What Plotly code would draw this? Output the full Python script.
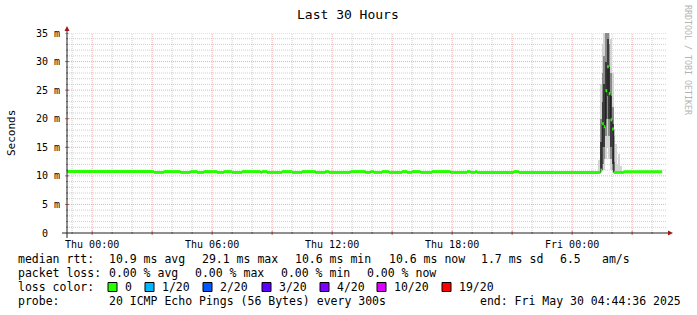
import plotly.graph_objects as go
import pandas as pd

# ---------------- data ----------------
graph_start = "2025-05-28 22:44:36"
graph_end = "2025-05-30 04:44:36"
data_end = "2025-05-30 04:30"

# median RTT in ms, piecewise constant (segment start time -> value)
median_start = [
    "2025-05-28 22:45", "2025-05-29 03:05", "2025-05-29 03:35", "2025-05-29 04:25",
    "2025-05-29 04:55", "2025-05-29 05:15", "2025-05-29 05:35", "2025-05-29 06:15",
    "2025-05-29 06:35", "2025-05-29 07:00", "2025-05-29 07:30", "2025-05-29 08:25",
    "2025-05-29 08:30", "2025-05-29 08:45", "2025-05-29 09:30", "2025-05-29 10:00",
    "2025-05-29 10:30", "2025-05-29 11:10", "2025-05-29 11:40", "2025-05-29 11:50",
    "2025-05-29 12:55", "2025-05-29 13:40", "2025-05-29 13:55", "2025-05-29 14:05",
    "2025-05-29 14:30", "2025-05-29 14:50", "2025-05-29 15:30", "2025-05-29 15:45",
    "2025-05-29 16:00", "2025-05-29 16:25", "2025-05-29 17:00", "2025-05-29 17:55",
    "2025-05-29 18:45", "2025-05-29 18:55", "2025-05-29 19:10", "2025-05-29 19:15",
    "2025-05-29 21:05", "2025-05-29 21:20",
    "2025-05-30 01:25", "2025-05-30 01:30", "2025-05-30 01:35", "2025-05-30 01:40",
    "2025-05-30 01:45", "2025-05-30 01:50", "2025-05-30 01:55", "2025-05-30 02:00",
    "2025-05-30 02:05", "2025-05-30 02:35",
]
median_ms = [
    10.75, 10.6, 10.75, 10.6,
    10.75, 10.6, 10.75, 10.6,
    10.75, 10.6, 10.75, 10.6,
    10.75, 10.6, 10.75, 10.6,
    10.75, 10.6, 10.75, 10.6,
    10.75, 10.6, 10.75, 10.6,
    10.75, 10.6, 10.75, 10.6,
    10.75, 10.6, 10.75, 10.6,
    10.75, 10.6, 10.75, 10.6,
    10.75, 10.6,
    11.0, 19.1, 18.6, 24.9,
    29.1, 24.4, 19.8, 18.2,
    10.6, 10.7,
]

# smoke (spread of the 20 pings) per 5-minute sample, ms
smoke_start = [
    "2025-05-30 01:20", "2025-05-30 01:25", "2025-05-30 01:30", "2025-05-30 01:35",
    "2025-05-30 01:40", "2025-05-30 01:45", "2025-05-30 01:50", "2025-05-30 01:55",
    "2025-05-30 02:00", "2025-05-30 02:05", "2025-05-30 02:10", "2025-05-30 02:15",
    "2025-05-30 02:20", "2025-05-30 02:25",
]
smoke_outer_lo = [10.5, 10.5, 11.0, 11.0, 13.0, 15.0, 13.0, 11.0, 10.6, 10.5, 10.5, 10.5, 10.5, 10.5]
smoke_outer_hi = [12.8, 26.0, 33.0, 36.0, 36.0, 36.0, 36.0, 34.0, 28.0, 17.0, 15.5, 12.0, 13.8, 11.8]
smoke_mid_lo = [None, 10.8, 12.0, 13.0, 17.0, 20.0, 17.0, 13.0, 11.0, 10.6, None, None, None, None]
smoke_mid_hi = [None, 20.0, 28.0, 31.0, 35.0, 36.0, 33.0, 28.0, 22.0, 12.5, None, None, None, None]
smoke_in_lo = [None, 11.0, 15.0, 15.0, 20.0, 24.0, 20.0, 15.0, 12.0, None, None, None, None, None]
smoke_in_hi = [None, 16.0, 23.0, 26.0, 30.0, 34.0, 29.0, 24.0, 19.0, None, None, None, None, None]

y_tick_vals = [0, 5, 10, 15, 20, 25, 30, 35]
y_tick_text = ["0 <span style='color:rgba(0,0,0,0)'>m</span>", "5 m", "10 m", "15 m",
               "20 m", "25 m", "30 m", "35 m"]
x_tick_vals = ["2025-05-29 00:00", "2025-05-29 06:00", "2025-05-29 12:00",
               "2025-05-29 18:00", "2025-05-30 00:00"]
x_tick_text = ["Thu 00:00", "Thu 06:00", "Thu 12:00", "Thu 18:00", "Fri 00:00"]

rtt_stats = ["10.9 ms avg", "29.1 ms max", "10.6 ms min", "10.6 ms now", "1.7 ms sd", "6.5", "am/s"]
loss_stats = ["0.00 % avg", "0.00 % max", "0.00 % min", "0.00 % now"]
loss_labels = ["0", "1/20", "2/20", "3/20", "4/20", "10/20", "19/20"]
loss_colors = ["#26ff00", "#00b8ff", "#0059ff", "#5e00ff", "#7e00ff", "#dd00ff", "#ff0000"]
probe_text = "20 ICMP Echo Pings (56 Bytes) every 300s"
end_text = "end: Fri May 30 04:44:36 2025"
title_text = "Last 30 Hours"
y_title = "Seconds"
watermark = "RRDTOOL / TOBI OETIKER"

# ---------------- layout constants ----------------
W, H = 697, 315
L, R, T, B = 67, 30, 33, 82
PW, PH = W - L - R, H - T - B
FONT = "DejaVu Sans Mono"


def px(x):
    return (x - L) / PW


def py(y):
    return (T + PH - y) / PH


fig = go.Figure()


def smoke_layer(lo, hi, color):
    xs, bases, hs = [], [], []
    for s, a, b in zip(smoke_start, lo, hi):
        if a is None:
            continue
        t0 = pd.Timestamp(s)
        xs.append(t0 + pd.Timedelta(seconds=150))
        bases.append(a)
        hs.append(b - a)
    fig.add_trace(go.Bar(x=xs, y=hs, base=bases, width=[300000] * len(xs),
                         marker=dict(color=color, line=dict(width=0)),
                         hoverinfo="skip", showlegend=False))


smoke_layer(smoke_outer_lo, smoke_outer_hi, "#d4d4d4")
smoke_layer(smoke_mid_lo, smoke_mid_hi, "#8c8c8c")
smoke_layer(smoke_in_lo, smoke_in_hi, "#3c3c3c")

# median black step line
fig.add_trace(go.Scatter(x=median_start + [data_end], y=median_ms + [median_ms[-1]],
                         mode="lines", line=dict(color="#202020", width=1, shape="hv"),
                         hoverinfo="skip", showlegend=False))

# median colored band (loss 0 -> green): horizontal dashes only
gx, gy = [], []
for s, e, v in zip(median_start, median_start[1:] + [data_end], median_ms):
    gx += [s, e, None]
    gy += [v, v, None]
fig.add_trace(go.Scatter(x=gx, y=gy, mode="lines", connectgaps=False,
                         line=dict(color=loss_colors[0], width=3),
                         hoverinfo="skip", showlegend=False))

shapes = []
minor_col = "rgba(160,160,160,0.5)"
major_col = "rgba(225,120,120,0.6)"
for t in pd.date_range("2025-05-28 23:00", "2025-05-30 04:00", freq="h"):
    major = t.hour % 3 == 0
    shapes.append(dict(type="line", xref="x", yref="paper", x0=t, x1=t, y0=0, y1=1,
                       line=dict(color=major_col if major else minor_col, width=1, dash="1px,1px"),
                       layer="below"))
    d = 2 if major else 1
    shapes.append(dict(type="line", xref="x", yref="paper", x0=t, x1=t,
                       y0=py(T + PH + d), y1=py(T + PH - d),
                       line=dict(color="rgba(200,60,60,0.8)" if major else "rgba(120,120,120,0.8)", width=1)))
for v in range(1, 36):
    major = v % 5 == 0
    shapes.append(dict(type="line", xref="paper", yref="y", x0=0, x1=1, y0=v, y1=v,
                       line=dict(color=major_col if major else minor_col, width=1, dash="1px,1px"),
                       layer="below"))
    d = 2 if major else 1
    shapes.append(dict(type="line", xref="paper", yref="y", x0=px(L - d), x1=px(L + d), y0=v, y1=v,
                       line=dict(color="rgba(200,60,60,0.8)" if major else "rgba(120,120,120,0.8)", width=1)))

shapes.append(dict(type="line", xref="paper", yref="paper", x0=px(62), x1=px(670),
                   y0=0, y1=0, line=dict(color="#202020", width=1)))
shapes.append(dict(type="line", xref="paper", yref="paper", x0=0, x1=0,
                   y0=py(238), y1=py(29), line=dict(color="#202020", width=1)))
arrow_col = "#a01818"
shapes.append(dict(type="path", xref="paper", yref="paper",
                   path=f"M {px(64.5)} {py(31)} L {px(69.5)} {py(31)} L {px(67)} {py(26)} Z",
                   fillcolor=arrow_col, line=dict(width=0)))
shapes.append(dict(type="path", xref="paper", yref="paper",
                   path=f"M {px(668)} {py(230.5)} L {px(668)} {py(235.5)} L {px(673)} {py(233)} Z",
                   fillcolor=arrow_col, line=dict(width=0)))

annotations = []


def text(x, y, s, size=11.5, anchor="left", color="#000000", angle=0):
    annotations.append(dict(x=px(x), y=py(y), xref="paper", yref="paper", text=s,
                            showarrow=False, xanchor=anchor, yanchor="middle",
                            textangle=angle, font=dict(family=FONT, size=size, color=color)))


text(348, 14, title_text, size=13, anchor="center")
text(11, 133, y_title, size=11, anchor="center", angle=-90)
text(688, 60, watermark, size=8.3, anchor="center", color="#b4b4b4", angle=90)

y1, y2, y3, y4 = 259, 273, 287, 301
text(16, y1, "median rtt:")
for s, x in zip(rtt_stats, [107, 200, 293, 387, 479, 558, 600]):
    text(x, y1, s)
text(16, y2, "packet loss:")
for s, x in zip(loss_stats, [107, 193, 279, 365]):
    text(x, y2, s)
text(16, y3, "loss color:")
for s, c, x in zip(loss_labels, loss_colors, [123, 160, 218, 277, 335, 392, 457]):
    text(x, y3, s)
    shapes.append(dict(type="rect", xref="paper", yref="paper",
                       x0=px(x - 15), x1=px(x - 6), y0=py(y3 - 4.5), y1=py(y3 + 4.5),
                       fillcolor=c, line=dict(color="#000000", width=1)))
text(16, y4, "probe:")
text(107, y4, probe_text)
text(478, y4, end_text)

fig.update_layout(
    width=W, height=H, margin=dict(l=L, r=R, t=T, b=B, pad=0),
    paper_bgcolor="#ffffff", plot_bgcolor="#ffffff",
    barmode="overlay", bargap=0, showlegend=False,
    shapes=shapes, annotations=annotations,
    font=dict(family=FONT, color="#000000"),
    xaxis=dict(type="date", range=[graph_start, graph_end], tickmode="array",
               tickvals=x_tick_vals, ticktext=x_tick_text, showgrid=False, zeroline=False,
               showline=False, ticks="", ticklabelstandoff=4,
               tickfont=dict(family=FONT, size=10, color="#000000"), fixedrange=True),
    yaxis=dict(range=[0, 35], tickmode="array", tickvals=y_tick_vals, ticktext=y_tick_text,
               showgrid=False, zeroline=False, showline=False, ticks="", ticklabelstandoff=6,
               tickfont=dict(family=FONT, size=10, color="#000000"), fixedrange=True),
)

fig.write_html("out.html", config={"displayModeBar": False})
